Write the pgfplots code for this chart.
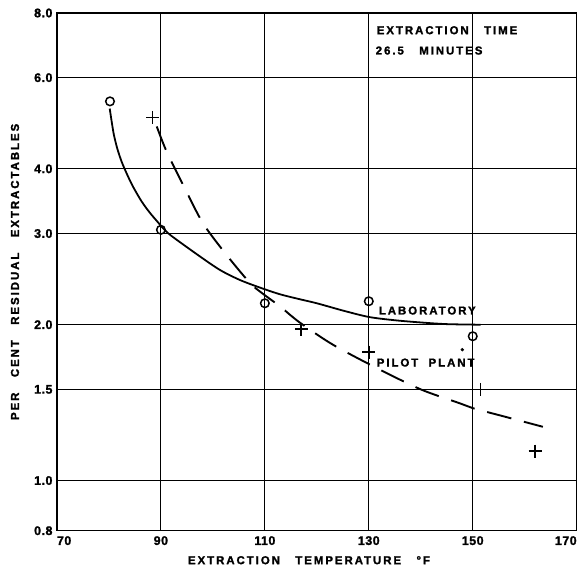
\documentclass[border=0pt]{standalone}
\usepackage{fontspec}
\setmainfont{Liberation Sans}
\newfontfamily\lett{Liberation Sans}[LetterSpace=17, BoldFont={Liberation Sans Bold}, BoldFeatures={FakeBold=1.5}]
\newfontfamily\tickf{Liberation Sans}[LetterSpace=4, BoldFont={Liberation Sans Bold}, BoldFeatures={FakeBold=1.5}]
\usepackage{pgfplots}
\pgfplotsset{compat=1.18}
\begin{document}
\begin{tikzpicture}
\begin{axis}[
  scale only axis, width=520bp, height=518bp,
  ymode=log, xmin=70, xmax=170, ymin=0.8, ymax=8,
  xtick={70,90,110,130,150,170},
  xticklabels={\makebox[0pt][l]{70},90,110,130,150,\makebox[0pt][r]{170}},
  ytick={0.8,1,1.5,2,3,4,6,8},
  yticklabels={0.8,1.0,1.5,2.0,3.0,4.0,6.0,8.0},
  yminorticks=false,
  grid=major,
  major grid style={black, line width=1pt},
  axis line style={black, line width=1.4pt},
  major tick length=0pt,
  /pgf/number format/assume math mode=true,
  tick label style={font=\tickf\bfseries\fontsize{12.5}{13}\selectfont},
  xticklabel style={yshift=-2bp},
  yticklabel style={xshift=-1bp},
  xlabel={EXTRACTION\ \ \ TEMPERATURE\ \ \ °F},
  ylabel={PER\ \ \ CENT\ \ \ RESIDUAL\ \ \ EXTRACTABLES},
  label style={font=\lett\bfseries\fontsize{11.5}{12}\selectfont},
  xlabel style={at={(axis description cs:0.485,-0.057)}, anchor=center},
  ylabel style={at={(axis description cs:-0.0808,0.5)}, anchor=center},
  clip=false,
]
% Laboratory curve (solid)
\addplot[black, line width=1.8pt, smooth, tension=0.5] coordinates {
 (80.15,5.23) (80.52,4.94) (80.96,4.65) (81.6,4.38) (82.44,4.13) (83.56,3.89)
 (84.67,3.69) (86.29,3.46) (87.88,3.29) (89.48,3.15) (90.44,3.07) (92,2.97)
 (97.5,2.71) (101.4,2.55) (105.2,2.44) (109,2.36) (112.9,2.29) (116.7,2.24)
 (120,2.2) (125,2.13) (130,2.07) (135,2.04) (140,2.02) (145,2.005) (151.5,2.0)};
% Pilot plant curve (dashed)
\addplot[black, line width=1.9pt, smooth, tension=0.5, dash pattern=on 25bp off 13bp] coordinates {
 (89.2,4.83) (91.1,4.32) (94.6,3.67) (98.1,3.14) (102.6,2.73) (107.1,2.41)
 (109.5,2.3) (112.9,2.17) (116.7,2.02) (123.1,1.83) (131.5,1.65) (140,1.5)
 (147.5,1.41) (150,1.38) (156,1.33) (163.5,1.27)};
% Laboratory points
\addplot[only marks, mark=o, mark size=4.3pt, mark options={line width=1.5pt, fill=white}] coordinates {
 (80.2,5.4) (90,3.05) (110,2.2) (130,2.22) (150,1.9)};
% Pilot plant points
\addplot[only marks, mark=+, mark size=6.5pt, mark options={line width=1.6pt}] coordinates {
 (88.4,5.03) (117,1.96) (130,1.77) (151.5,1.5) (162,1.14)};
\addplot[only marks, mark=*, mark size=1.5pt] coordinates {(148,1.79)};
\node[anchor=west, font=\lett\bfseries\fontsize{11.5}{12}\selectfont, inner sep=0pt] at (axis cs:131.5,7.41) {EXTRACTION\ \ \ TIME};
\node[anchor=west, font=\lett\bfseries\fontsize{11.5}{12}\selectfont, inner sep=0pt] at (axis cs:131.3,6.77) {26.5\ \ \ MINUTES};
\node[anchor=west, font=\lett\bfseries\fontsize{11.5}{12}\selectfont, inner sep=0pt] at (axis cs:131.9,2.13) {LABORATORY};
\node[anchor=west, font=\lett\bfseries\fontsize{11.5}{12}\selectfont, inner sep=0pt] at (axis cs:131.5,1.69) {PILOT\ \ PLANT};
\path ([xshift=-57bp,yshift=-36bp]rel axis cs:0,0) rectangle ([xshift=3bp,yshift=13bp]rel axis cs:1,1);
\end{axis}
\end{tikzpicture}
\end{document}
